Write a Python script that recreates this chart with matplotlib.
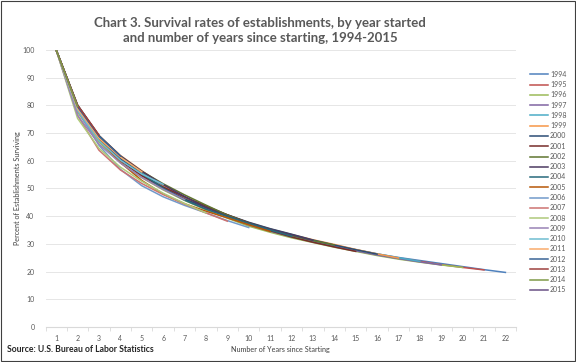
import matplotlib
matplotlib.use('Agg')
import matplotlib.pyplot as plt
from matplotlib.ticker import MultipleLocator, FixedLocator

# Start years of each cohort
cohorts = list(range(1994, 2016))

# Percent of establishments still alive, by number of years since starting
survival = {
    1994: [100, 79.6, 68.7, 61.0, 55.3, 50.6, 46.7, 43.4, 40.4, 37.5, 34.9, 32.8, 31.0, 29.4, 27.9, 26.4, 25.1, 24.0, 22.9, 21.8, 20.7, 19.7],
    1995: [100, 78.9, 67.9, 60.4, 54.6, 50.0, 46.2, 42.9, 39.9, 37.0, 34.5, 32.5, 30.8, 29.2, 27.6, 26.1, 24.8, 23.7, 22.5, 21.5, 20.6],
    1996: [100, 77.5, 66.8, 59.3, 53.9, 49.5, 45.7, 42.3, 39.3, 36.4, 34.2, 32.2, 30.5, 28.8, 27.3, 25.8, 24.5, 23.4, 22.4, 21.5],
    1997: [100, 78.6, 67.8, 60.3, 54.9, 50.3, 46.4, 42.9, 39.8, 36.9, 34.6, 32.6, 30.8, 29.1, 27.5, 26.0, 24.7, 23.5, 22.4],
    1998: [100, 79.0, 68.4, 61.0, 55.6, 51.0, 46.8, 43.2, 39.8, 37.2, 35.0, 33.0, 31.2, 29.5, 27.9, 26.4, 25.0, 23.7],
    1999: [100, 79.9, 69.1, 61.9, 56.4, 51.2, 46.8, 43.2, 40.2, 37.7, 35.4, 33.4, 31.5, 29.8, 28.0, 26.4, 24.9],
    2000: [100, 79.5, 68.4, 60.9, 55.0, 50.0, 46.2, 43.2, 40.5, 37.8, 35.5, 33.5, 31.4, 29.6, 27.9, 26.3],
    2001: [100, 79.2, 67.6, 60.0, 54.6, 50.5, 47.0, 43.7, 40.5, 37.6, 34.8, 32.5, 30.6, 28.9, 27.3],
    2002: [100, 79.8, 68.7, 61.6, 56.2, 51.7, 47.7, 44.0, 40.4, 37.5, 35.1, 33.0, 31.2, 29.6],
    2003: [100, 80.0, 69.1, 61.8, 56.2, 51.4, 47.1, 43.1, 40.0, 37.5, 35.3, 33.3, 31.3],
    2004: [100, 80.1, 69.0, 61.5, 55.3, 50.1, 45.8, 42.5, 39.9, 37.4, 35.0, 32.8],
    2005: [100, 79.3, 67.9, 59.4, 52.9, 48.0, 44.5, 41.8, 39.4, 36.9, 34.5],
    2006: [100, 78.2, 65.6, 56.9, 51.0, 47.0, 43.9, 41.2, 38.4, 35.9],
    2007: [100, 76.4, 63.8, 56.7, 51.8, 47.8, 44.4, 41.2, 38.2],
    2008: [100, 75.3, 64.5, 57.7, 52.6, 48.3, 44.6, 41.2],
    2009: [100, 76.4, 66.0, 59.2, 54.0, 49.7, 46.0],
    2010: [100, 78.3, 67.3, 60.2, 55.2, 51.5],
    2011: [100, 78.8, 68.2, 61.3, 56.0],
    2012: [100, 79.5, 68.9, 61.7],
    2013: [100, 80.1, 69.3],
    2014: [100, 79.6],
    2015: [100],
}

# Excel-like series colours
colors = ['#4F81BD', '#C0504D', '#9BBB59', '#8064A2', '#4BACC6', '#F79646',
          '#2C4D75', '#772C2A', '#5F7530', '#4D3B62', '#276A7C', '#B65708',
          '#729ACA', '#CD7371', '#AFC97A', '#9983B5', '#6FBDD1', '#F9AB6B',
          '#3B6496', '#9E413E', '#7F9A48', '#695185']

plt.rcParams['font.family'] = ['Lato', 'DejaVu Sans']

fig = plt.figure(figsize=(5.76, 3.62), dpi=100)
ax = fig.add_axes([0.079, 0.0967, 0.817, 0.7653])

for year, col in zip(cohorts, colors):
    vals = survival[year]
    ax.plot(range(1, len(vals) + 1), vals, color=col, lw=1.1, label=str(year))

ax.set_xlim(0.5, 22.5)
ax.set_ylim(0, 100)
ax.yaxis.set_major_locator(MultipleLocator(10))
ax.xaxis.set_major_locator(FixedLocator(range(1, 23)))
ax.xaxis.set_minor_locator(FixedLocator([i + 0.5 for i in range(0, 23)]))
ax.grid(axis='y', color='#E6E6E6', lw=0.7)
ax.set_axisbelow(True)
for s in ['top', 'right', 'left']:
    ax.spines[s].set_visible(False)
ax.spines['bottom'].set_color('#D9D9D9')
ax.tick_params(axis='x', which='major', length=0, labelsize=5, colors='#595959', pad=6)
ax.tick_params(axis='x', which='minor', length=3, color='#D9D9D9')
ax.tick_params(axis='y', length=0, labelsize=5, colors='#595959', pad=8)

ax.set_xlabel('Number of Years since Starting', fontsize=5.2, color='#404040', labelpad=3)
ax.set_ylabel('Percent of Establishments Surviving', fontsize=5.2, color='#404040', labelpad=1)

fig.text(0.452, 0.952, 'Chart 3. Survival rates of establishments, by year started\nand number of years since starting, 1994-2015',
         ha='center', va='top', fontsize=9.5, fontweight='bold', color='#595959', linespacing=1.3)
fig.text(0.012, 0.035, 'Source: U.S. Bureau of Labor Statistics', fontsize=6.2,
         fontweight='bold', color='#262626', ha='left', va='center')

fig.legend(loc='upper left', bbox_to_anchor=(0.915, 0.812), frameon=False,
           fontsize=5, labelcolor='#595959', handlelength=2.6, handletextpad=0.3,
           labelspacing=0.47, borderaxespad=0)

# outer frame around the whole chart
fig.patches.append(plt.Rectangle((0.002, 0.003), 0.996, 0.994, transform=fig.transFigure,
                                 fill=False, edgecolor='#404040', lw=0.8))

fig.savefig('out.png', dpi=100)
